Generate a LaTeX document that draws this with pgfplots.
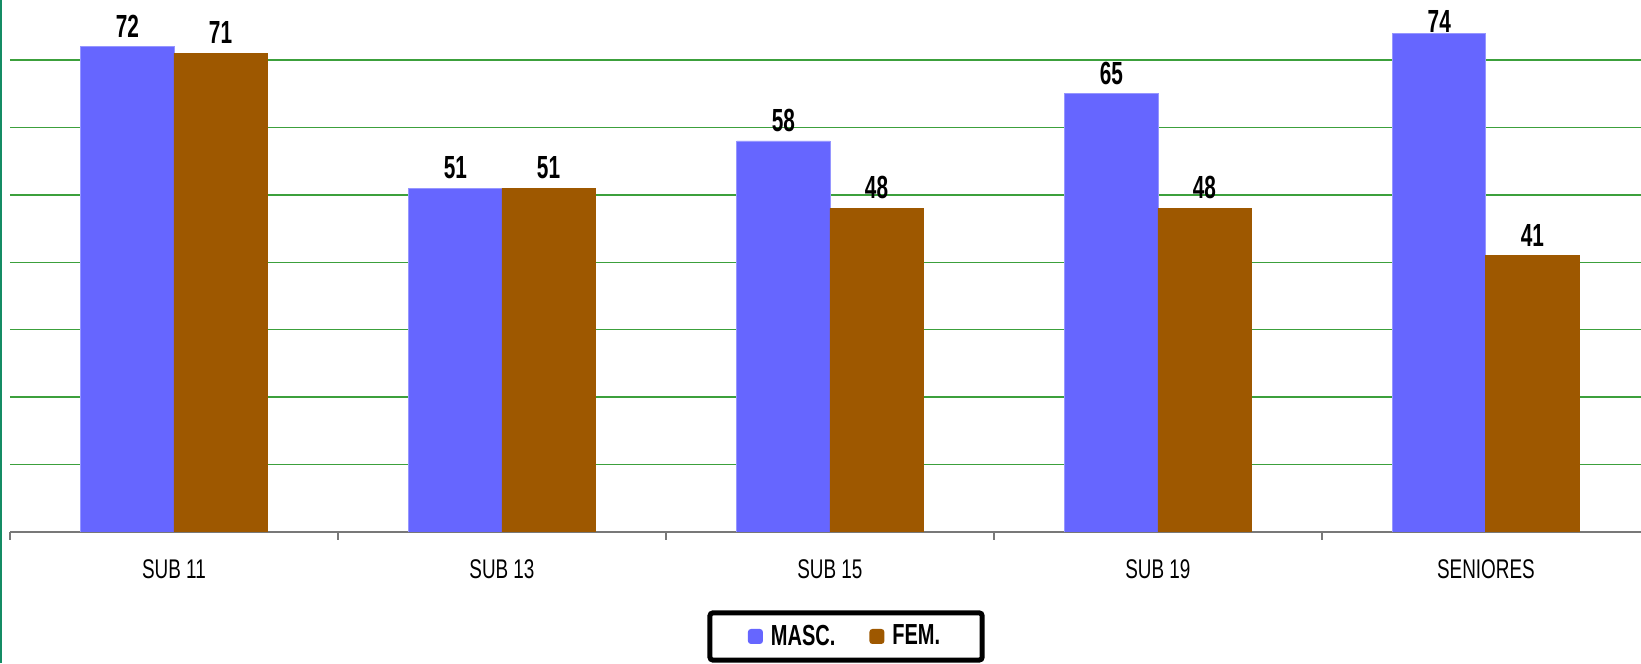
\documentclass[border=0pt]{standalone}
\usepackage{fontspec}
\setmainfont{Liberation Sans}
\newfontfamily\valfont[FakeStretch=0.65]{Liberation Sans}
\newfontfamily\tickfont[FakeStretch=0.70]{Liberation Sans}
\newfontfamily\legfont[FakeStretch=0.69]{Liberation Sans}
\usepackage{pgfplots}
\pgfplotsset{compat=1.18}
\definecolor{masc}{RGB}{102,102,255}
\definecolor{mascedge}{RGB}{150,150,255}
\definecolor{fem}{RGB}{158,88,0}
\definecolor{gridgreen}{RGB}{60,160,60}
\definecolor{framegreen}{RGB}{20,140,100}
\definecolor{axisgray}{RGB}{120,120,120}
\pgfplotstableread{
x y shift
0 72 4.5
1 51 4.5
2 58 4.5
3 65 4.5
4 74 0.3
}\masctable
\pgfplotstableread{
x y shift
0 71 4.5
1 51 4.5
2 48 4.5
3 48 4.5
4 41 4.5
}\femtable
\begin{document}
\begin{tikzpicture}
\begin{axis}[
  at={(5pt,65.5pt)}, anchor=south west,
  scale only axis, width=815.5pt, height=266pt,
  xmin=-0.5, xmax=4.473, ymin=0, ymax=78.9,
  ybar=0pt, bar width=0.284,
  axis x line*=bottom, axis y line*=left,
  x axis line style={draw=axisgray, line width=1pt},
  y axis line style={draw=none},
  xtick={0,1,2,3,4},
  xticklabels={SUB 11,SUB 13,SUB 15,SUB 19,SENIORES},
  major x tick style={draw=none},
  ytick={10,20,30,40,50,60,70}, yticklabels={},
  major y tick style={draw=none},
  ymajorgrids, y grid style={gridgreen, line width=0.75pt},
  extra x ticks={-0.5,0.5,1.5,2.5,3.5},
  extra x tick labels={},
  extra x tick style={tick align=outside, major tick length=4pt,
     major x tick style={draw=axisgray, line width=0.8pt}, xmajorgrids=false},
  xticklabel style={font=\tickfont\fontsize{13.5}{14}\selectfont, inner sep=0pt, yshift=-9.5pt},
  /pgf/number format/assume math mode=true,
  visualization depends on={\thisrow{shift}\as\labshift},
  nodes near coords,
  nodes near coords style={font=\valfont\bfseries\fontsize{16}{17}\selectfont, inner sep=0pt, anchor=south, yshift=\labshift pt, text=black},
  legend columns=2,
  legend style={at={(0.5126,-0.1964)}, anchor=center, draw=black, line width=2.5pt,
     rounded corners=1.5pt, inner xsep=19pt, inner ysep=4pt,
     font=\legfont\bfseries\fontsize{14.5}{15}\selectfont,
     /tikz/every even column/.append style={column sep=15pt},
     /tikz/every odd column/.append style={column sep=2pt}},
  legend image code/.code={\fill[#1,draw=none] (0pt,-3.75pt) rectangle (7.5pt,3.75pt);},
]
\addplot[fill=masc, draw=mascedge, line width=0.4pt] table[x=x,y=y] {\masctable};
\addlegendentry{MASC.}
\addplot[fill=fem, draw=fem, line width=0.4pt] table[x=x,y=y] {\femtable};
\addlegendentry{FEM.}
\end{axis}
\draw[framegreen, line width=1pt] (0.5pt,0pt) -- (0.5pt,331.5pt);
\pgfresetboundingbox
\useasboundingbox (0,0) rectangle (820.5pt,331.5pt);
\end{tikzpicture}
\end{document}
